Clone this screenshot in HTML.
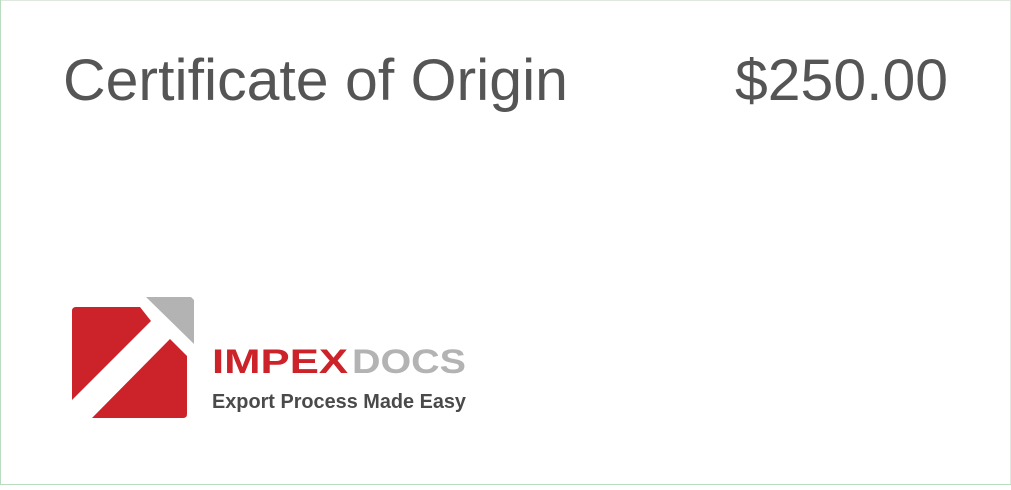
<!DOCTYPE html>
<html><head><style>
html,body{margin:0;padding:0;background:#fff;}
body{width:1011px;height:485px;overflow:hidden;}
</style></head><body>
<svg width="1011" height="485" viewBox="0 0 1011 485" xmlns="http://www.w3.org/2000/svg">
<rect x="0.5" y="0.5" width="1010" height="484" fill="#fff" stroke="#dfe8e0"/>
<line x1="0.5" y1="0" x2="0.5" y2="485" stroke="#b9dcc0"/>
<line x1="0" y1="484.5" x2="1011" y2="484.5" stroke="#b9dcc0"/>
<text x="63" y="100" font-family="Liberation Sans, sans-serif" font-size="58" fill="#555" textLength="505" lengthAdjust="spacingAndGlyphs">Certificate of Origin</text>
<text x="735" y="100" font-family="Liberation Sans, sans-serif" font-size="58" fill="#555" textLength="213" lengthAdjust="spacingAndGlyphs">$250.00</text>
<polygon points="146,297 191,297 194,300 194,344" fill="#b3b3b3"/>
<path d="M76,307 L140,307 L151,321 L72,400 L72,311 Q72,307 76,307 Z" fill="#cc2229"/>
<path d="M170,339 L187,356 L187,414 Q187,418 183,418 L92,418 Z" fill="#cc2229"/>
<text x="212" y="373" font-family="Liberation Sans, sans-serif" font-weight="bold" font-size="34" fill="#cc2229" textLength="136" lengthAdjust="spacingAndGlyphs">IMPEX</text>
<text x="352" y="373" font-family="Liberation Sans, sans-serif" font-weight="bold" font-size="34" fill="#b3b3b3" textLength="114" lengthAdjust="spacingAndGlyphs">DOCS</text>
<text x="212" y="408" font-family="Liberation Sans, sans-serif" font-weight="bold" font-size="20" fill="#4a4a4a" textLength="254" lengthAdjust="spacingAndGlyphs">Export Process Made Easy</text>
</svg>
</body></html>
